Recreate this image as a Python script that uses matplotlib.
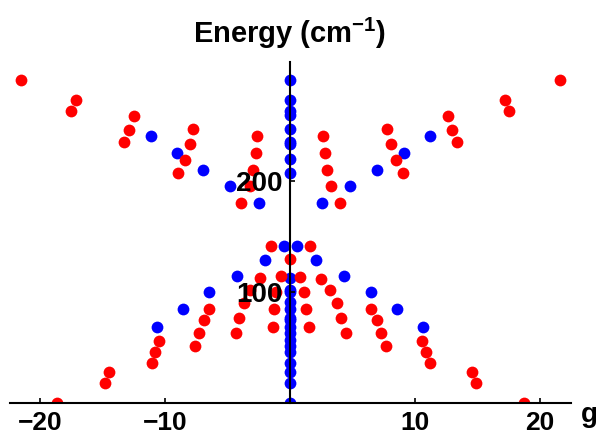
import matplotlib.pyplot as plt

plt.rcParams['font.family'] = ['Liberation Sans', 'DejaVu Sans']
plt.rcParams['font.weight'] = 'bold'
plt.rcParams['mathtext.fontset'] = 'custom'
plt.rcParams['mathtext.bf'] = 'Liberation Sans:bold'
plt.rcParams['mathtext.rm'] = 'Liberation Sans:bold'
plt.rcParams['mathtext.default'] = 'bf'

# red levels (g, energy)
red_g = [-21.5, -17.1, -17.5, -12.5, -12.9, -13.3, -7.73, -8.0, -8.4, -8.93,
         -2.6, -2.72, -2.93, -3.2, -3.95,
         21.65, 17.25, 17.5, 12.67, 12.99, 13.4, 7.79, 8.08, 8.48, 9.07,
         2.67, 2.8, 2.99, 3.33, 4.05,
         -18.6, -14.8, -14.5, -11.06, -10.8, -10.45, -7.6, -7.28, -6.88, -6.45,
         -4.35, -4.05, -3.68, -3.2, -2.4, -1.38, -1.28, -1.12, -0.72, -1.55,
         0.0,
         1.65, 0.8, 1.12, 1.33, 1.52, 2.48, 3.2, 3.79, 4.13, 4.48,
         6.53, 6.99, 7.33, 7.68, 10.59, 10.88, 11.2, 14.6, 14.9, 18.7]
red_E = [291, 273, 263, 258, 246, 235, 247, 233, 219, 207,
         240, 225, 210, 195, 180.5,
         291, 273, 262.6, 258, 246, 235, 247, 233, 219, 207,
         240, 225, 210, 195, 180.5,
         0, 18.3, 27.6, 36.2, 46.1, 55.8, 51.3, 63.2, 74.6, 84.3,
         62.7, 76.7, 90.2, 101.6, 112.7, 68.6, 84.3, 99.5, 114.5, 141,
         129.2,
         141, 113.6, 99.5, 84.3, 68.6, 112, 102, 90.2, 76.7, 62.7,
         84.3, 74.6, 63.2, 51.3, 55.8, 46.1, 36.2, 27.6, 18.3, 0]

# blue levels (g, energy)
blue_g = [-11.1, -9.0, -6.93, -4.8, -2.48,
          11.2, 9.12, 7.01, 4.85, 2.59,
          -10.6, -8.53, -6.45, -4.27, -2.0, -0.48,
          10.67, 8.61, 6.48, 4.35, 2.08, 0.55,
          0, 0, 0, 0, 0, 0, 0, 0, 0,
          0, 0, 0, 0, 0, 0, 0, 0, 0, 0, 0, 0, 0, 0, 0, 0]
blue_E = [240, 225, 210, 195, 180.5,
          240, 225, 210, 195, 180.5,
          68.6, 84.3, 99.5, 114.5, 128.6, 141,
          68.6, 84.3, 99.5, 114.5, 128.6, 141,
          291, 273, 263, 259, 246.5, 235, 233, 219.5, 207.5,
          112.4, 101.6, 99.5, 90.5, 84.3, 76.7, 74.6, 68.6, 63.0, 57,
          51.3, 46.1, 36.2, 27.6, 18.3, 0]

fig = plt.figure(figsize=(5.98, 4.38), dpi=100)
ax = fig.add_axes([10 / 598, 35 / 438, 561 / 598, 341 / 438])

ax.scatter(blue_g, blue_E, s=72, color='#0000ff', linewidths=0, zorder=1)
ax.scatter(red_g, red_E, s=72, color='#ff0000', linewidths=0, zorder=1.1)

ax.set_xlim(-22.4, 22.5)
ax.set_ylim(0, 307)

ax.spines['top'].set_visible(False)
ax.spines['right'].set_visible(False)
ax.spines['left'].set_position(('data', 0))
ax.spines['left'].set_linewidth(1.5)
ax.spines['bottom'].set_linewidth(1.5)

ax.set_xticks([-20, -10, 10, 20])
ax.set_yticks([100, 200])
ax.tick_params(direction='in', length=3.5, width=1.2, labelsize=20, pad=5)
ax.tick_params(axis='x', labelsize=19, pad=6)
for lab in ax.get_xticklabels() + ax.get_yticklabels():
    lab.set_fontweight('bold')

ax.annotate('Energy (cm$^{-1}$)', xy=(0, 307), xytext=(0, 13.7),
            textcoords='offset points', ha='center', va='baseline',
            fontsize=21, fontweight='bold', annotation_clip=False)
ax.annotate('g', xy=(1, 0), xycoords='axes fraction', xytext=(7, -13.5),
            textcoords='offset points', ha='left', va='baseline',
            fontsize=20, fontweight='bold', annotation_clip=False)

plt.savefig('out.png', dpi=100)
